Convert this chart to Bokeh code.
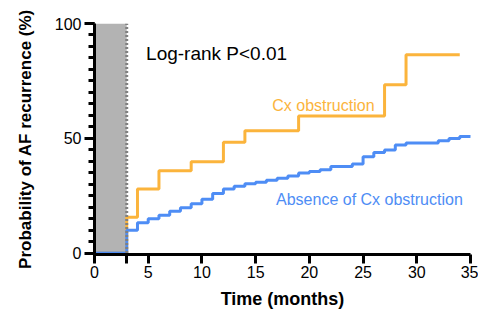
from bokeh.plotting import figure
from bokeh.models import Range1d, FixedTicker, Label
from bokeh.embed import file_html
from bokeh.resources import INLINE

# Data (months, cumulative AF recurrence %)
cx_time = [0, 3, 4, 6, 9, 12, 14, 19, 27, 29, 34]
cx_prob = [0, 15.6, 27.9, 35.9, 39.8, 48.3, 53.3, 59.7, 73.3, 86.4, 86.4]

no_cx_time = [0, 3, 4, 5, 6, 7, 8, 9, 10, 11, 12, 13, 14, 15, 16, 17, 18, 19, 20,
              21, 22, 24, 25, 26, 27, 28, 29, 32, 33, 34, 35]
no_cx_prob = [0, 10.0, 13.2, 15.0, 16.5, 18.2, 19.8, 21.5, 23.5, 26.0, 27.9, 29.1,
              30.2, 30.9, 31.7, 32.6, 33.6, 34.9, 35.6, 36.3, 37.7, 38.8, 42.0,
              43.8, 44.9, 47.1, 48.0, 48.9, 49.9, 50.8, 51.4]

blanking_start, blanking_end = 0, 3
x_ticks = [0, 3, 5, 10, 15, 20, 25, 30, 35]
y_ticks = [0, 50, 100]
y_minor = list(range(0, 101, 5))

FONT = "Liberation Sans"
ORANGE = "#FBB43C"
BLUE = "#4E8DF5"

p = figure(width=478, height=311, output_backend="svg", toolbar_location=None,
           x_range=Range1d(0, 35), y_range=Range1d(-0.6, 100),
           min_border_left=94, min_border_right=8, min_border_top=23, min_border_bottom=54)
p.outline_line_color = None
p.xgrid.visible = False
p.ygrid.visible = False

# blanking period
p.quad(left=[blanking_start], right=[blanking_end], bottom=[0], top=[100],
       fill_color="#B3B3B3", line_color=None)

p.step(cx_time, cx_prob, mode="after", line_color=ORANGE, line_width=3)
p.step(no_cx_time, no_cx_prob, mode="after", line_color=BLUE, line_width=3)

p.segment(x0=[blanking_end], y0=[0], x1=[blanking_end], y1=[100],
          line_color="#808080", line_width=3, line_dash="2 2")

for ax in (p.xaxis[0], p.yaxis[0]):
    ax.axis_line_width = 3
    ax.major_tick_line_width = 3
    ax.minor_tick_line_width = 3
    ax.major_tick_in = 0
    ax.minor_tick_in = 0
    ax.major_label_text_font = FONT
    ax.major_label_text_font_size = "16px"
    ax.major_label_text_color = "black"
    ax.axis_label_text_font = FONT
    ax.axis_label_text_font_style = "bold"
    ax.axis_label_text_color = "black"

p.xaxis.ticker = FixedTicker(ticks=x_ticks)
p.xaxis.major_label_overrides = {3: ""}
p.xaxis.major_tick_out = 9
p.xaxis.major_label_standoff = 2
p.xaxis.axis_label = "Time (months)"
p.xaxis.axis_label_text_font_size = "18px"
p.xaxis.axis_label_standoff = 8

p.yaxis.ticker = FixedTicker(ticks=y_ticks, minor_ticks=y_minor)
p.yaxis.major_tick_out = 10
p.yaxis.minor_tick_out = 6
p.yaxis.major_label_standoff = 3
p.yaxis.axis_label = "Probability of AF recurrence (%)"
p.yaxis.axis_label_text_font_size = "17px"
p.yaxis.axis_label_standoff = 17

p.add_layout(Label(x=4.8, y=87, text="Log-rank P<0.01", text_font=FONT,
                   text_font_size="19px", text_color="black", text_baseline="alphabetic"))
p.add_layout(Label(x=16.55, y=64.5, text="Cx obstruction", text_font=FONT,
                   text_font_size="16px", text_color=ORANGE, text_baseline="alphabetic"))
p.add_layout(Label(x=16.9, y=23.5, text="Absence of Cx obstruction", text_font=FONT,
                   text_font_size="16px", text_color=BLUE, text_baseline="alphabetic"))

open("out.html", "w").write(file_html(p, INLINE))
